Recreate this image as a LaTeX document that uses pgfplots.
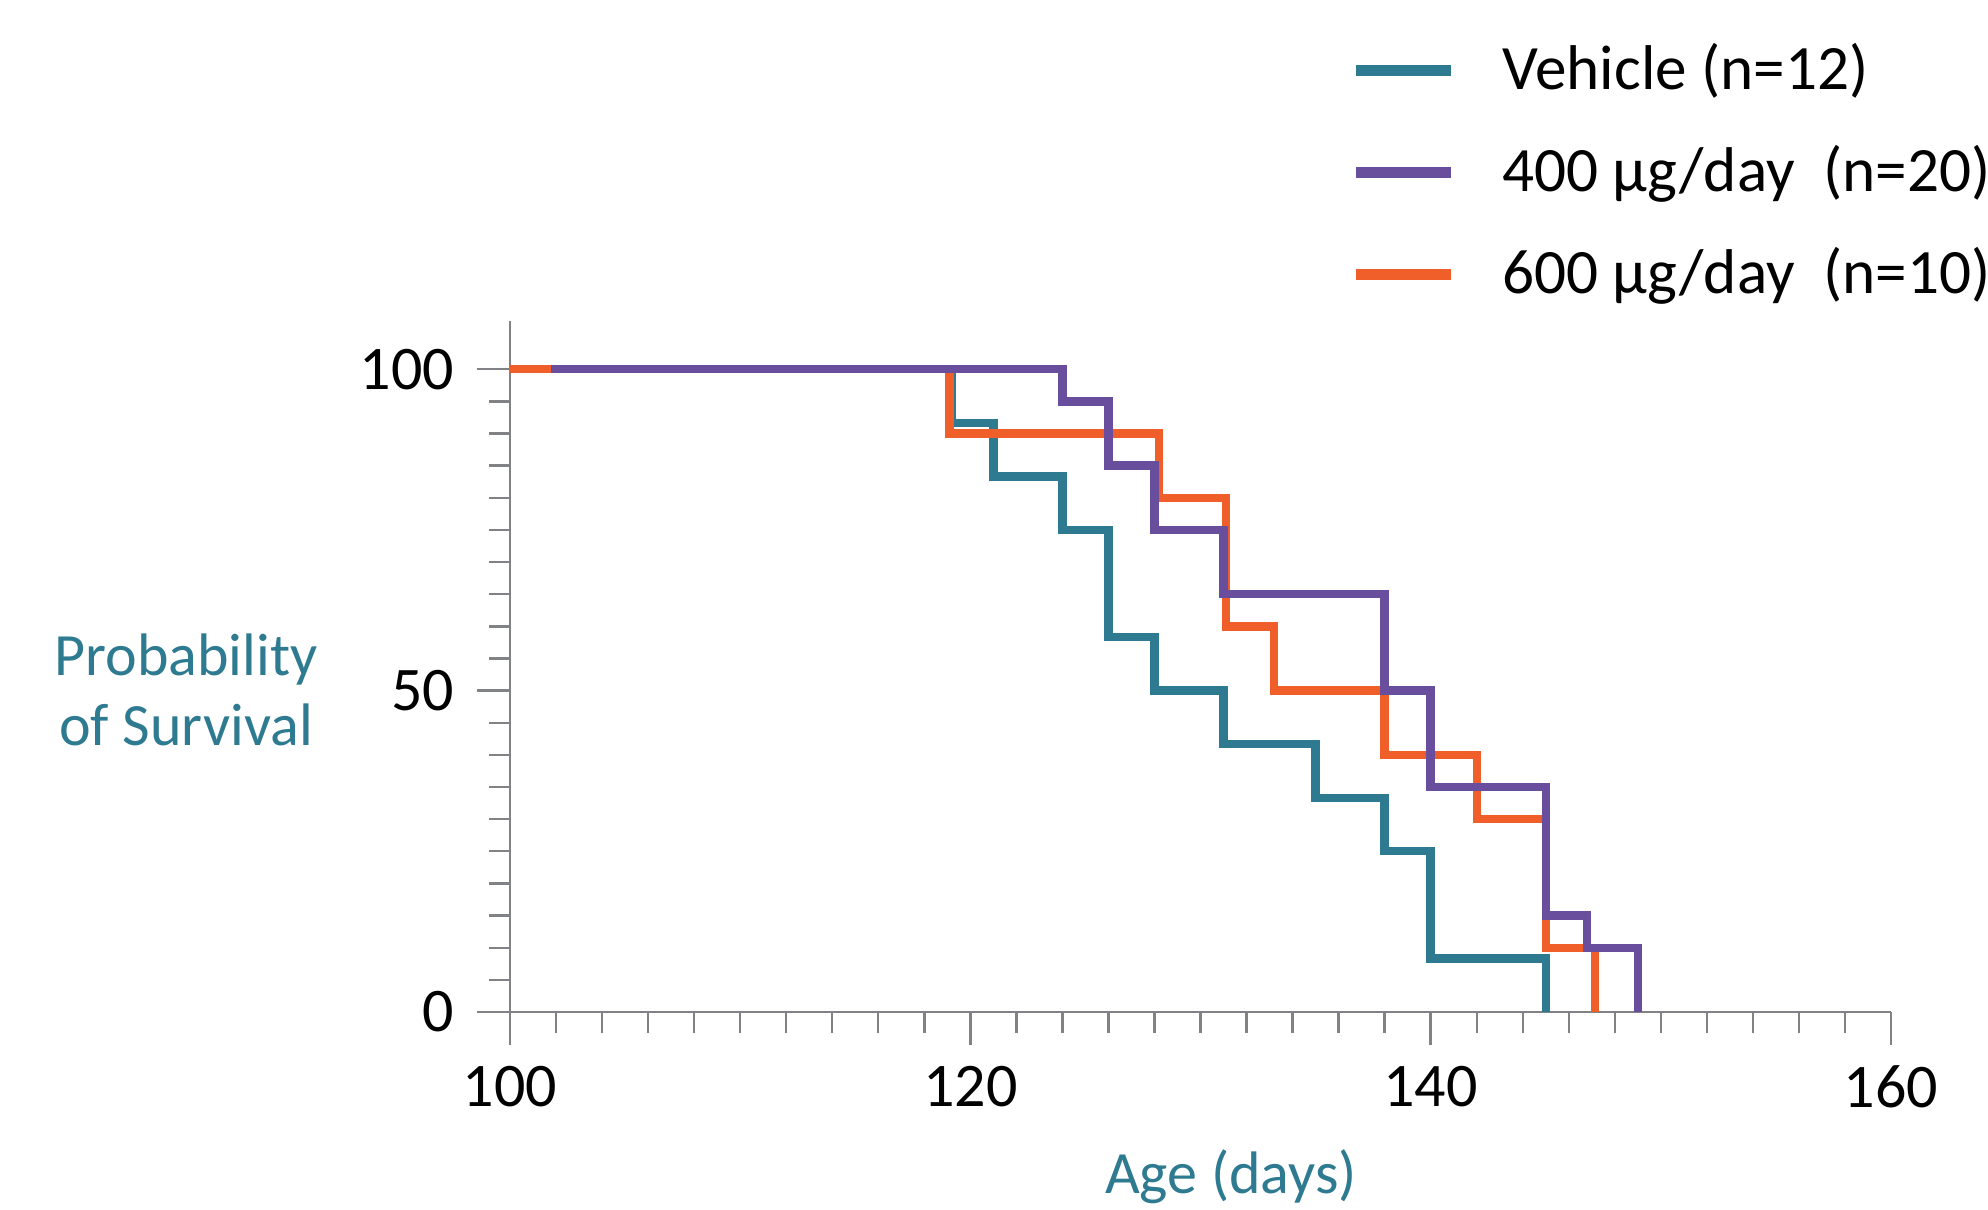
\documentclass[border=0pt]{standalone}
\usepackage{fontspec}
\setmainfont{Carlito}
\usepackage{pgfplots}
\pgfplotsset{compat=1.18}
\definecolor{cteal}{HTML}{2E7A90}
\definecolor{cpurple}{HTML}{6A4E9E}
\definecolor{corange}{HTML}{F05E2A}
\definecolor{cgray}{HTML}{808285}
\begin{document}
\begin{tikzpicture}
\useasboundingbox (0,0) rectangle (497pt,302.25pt);
\begin{axis}[
  at={(127.5pt,49.25pt)}, anchor=south west,
  scale only axis, width=345.25pt, height=172.75pt,
  xmin=100, xmax=160, ymin=0, ymax=107.5,
  axis x line*=bottom, axis y line*=left,
  axis line style={cgray, line width=0.6pt},
  xtick={100,120,140,160}, ytick={0,50,100},
  minor xtick={102,104,...,118,122,124,...,138,142,144,...,158},
  minor ytick={5,10,...,45,55,60,...,95},
  tick align=outside,
  major tick length=8.3pt, minor tick length=5.25pt,
  every tick/.style={cgray, line width=0.6pt},
  /pgf/number format/assume math mode=true,
  tick label style={font=\fontsize{15.5}{19}\selectfont, text=black},
  xticklabel style={inner sep=0pt, anchor=north, yshift=-5pt},
  yticklabel style={inner sep=0pt, anchor=east, xshift=-5.5pt},
  xlabel={Age (days)},
  xlabel style={at={(axis description cs:0.522,-0.2388)}, anchor=center, font=\fontsize{15}{19}\selectfont, text=cteal},
  ylabel={Probability\\of Survival},
  ylabel style={at={(axis description cs:-0.2346,0.466)}, anchor=center, rotate=-90, align=center, font=\fontsize{15}{17.5}\selectfont, text=cteal},
  legend image code/.code={\draw[#1, line width=2.7pt, line cap=butt] (0pt,0.6pt) -- (23.75pt,0.6pt); \path (36.4pt,0.6pt);},
  legend style={at={(0.6087,1.405)}, anchor=north west, draw=none, fill=none,
    inner sep=0pt, outer sep=0pt, row sep=9.5pt,
    font=\fontsize{15.8}{19}\selectfont,
    nodes={inner sep=0pt, text height=12pt, text depth=4pt}},
  legend cell align=left,
  clip=false,
]
\addlegendimage{cteal}
\addlegendimage{cpurple}
\addlegendimage{corange}
\addplot[const plot mark left, cteal, line width=2.1pt, line join=miter, line cap=butt, forget plot] coordinates {
(100,100) (119.2,91.667) (121,83.333) (124,75) (126,58.333) (128,50) (131,41.667) (135,33.333) (138,25) (140,8.333) (145,0)
};
\addplot[const plot mark left, corange, line width=2.1pt, line join=miter, line cap=butt, forget plot] coordinates {
(100,100) (119.1,90) (128.2,80) (131.1,60) (133.2,50) (138,40) (142,30) (145,10) (147.15,0)
};
\addplot[const plot mark left, cpurple, line width=2.1pt, line join=miter, line cap=butt, forget plot] coordinates {
(101.8,100) (124,95) (126,85) (128,75) (131,65) (138,50) (140,35) (145,15) (146.8,10) (149,0)
};
\legend{Vehicle (n=12), 400 µg/day\ \ (n=20), 600 µg/day\ \ (n=10)}
\end{axis}
\end{tikzpicture}
\end{document}
